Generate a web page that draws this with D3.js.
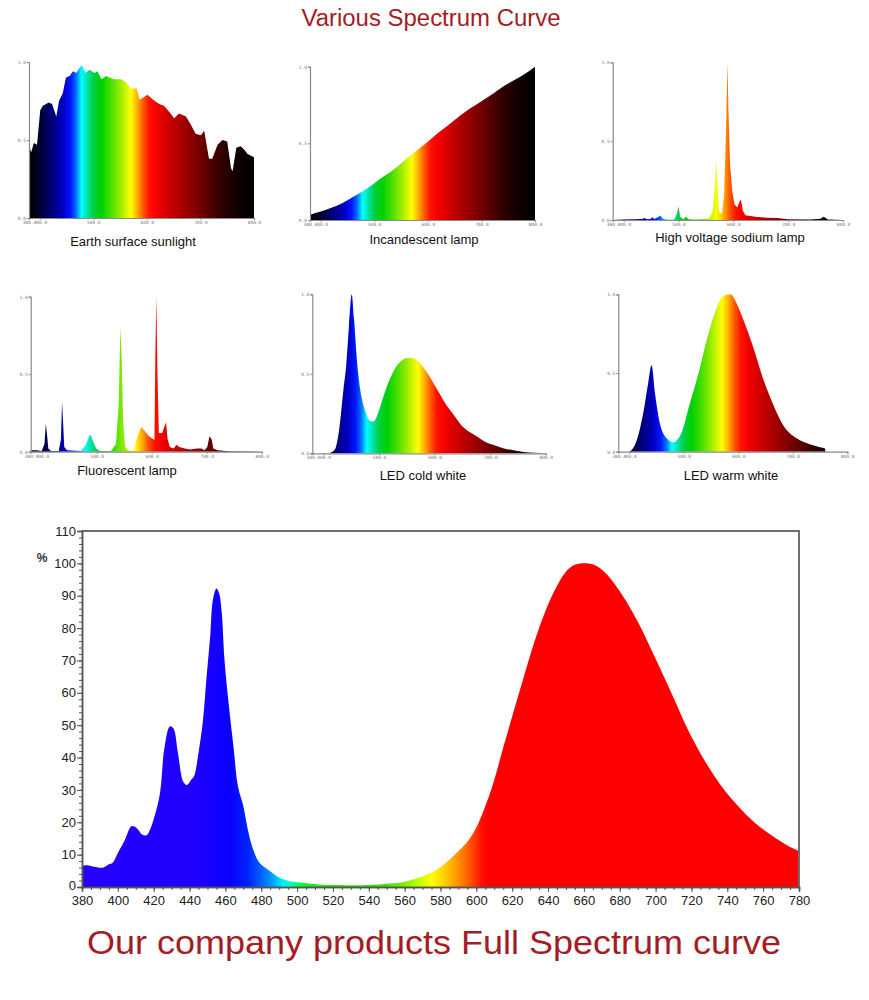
<!DOCTYPE html>
<html><head><meta charset="utf-8">
<script src="https://cdn.jsdelivr.net/npm/d3@7"></script>
<style>body{margin:0;background:#fff}svg{display:block}</style>
</head><body>
<script>
// ---------- DATA ----------
const sunlight = [[380,0.47],[384,0.42],[389,0.48],[395,0.47],[401,0.69],[406,0.72],[417,0.74],[423,0.73],[431,0.65],[436,0.75],[443,0.80],[449,0.90],[456,0.91],[462,0.94],[468,0.93],[474,0.96],[479,0.98],[485,0.93],[493,0.95],[502,0.93],[508,0.94],[515,0.89],[524,0.91],[530,0.90],[539,0.89],[552,0.89],[561,0.87],[570,0.83],[581,0.83],[586,0.76],[592,0.77],[601,0.79],[611,0.76],[623,0.73],[632,0.72],[642,0.68],[651,0.64],[660,0.67],[673,0.65],[682,0.60],[691,0.54],[701,0.53],[707,0.56],[716,0.38],[722,0.38],[732,0.47],[741,0.50],[750,0.49],[757,0.32],[760,0.30],[767,0.45],[775,0.46],[781,0.44],[788,0.41],[800,0.39]];
const incandescent = [[380,0.035],[400,0.055],[420,0.08],[440,0.11],[460,0.15],[480,0.19],[500,0.24],[520,0.29],[540,0.34],[560,0.40],[580,0.455],[600,0.51],[620,0.57],[640,0.625],[660,0.68],[680,0.73],[700,0.775],[720,0.82],[740,0.87],[760,0.91],[780,0.95],[800,1.0]];
const sodium = [[380,0],[400,0.003],[420,0.005],[434,0.006],[438,0.012],[442,0.005],[449,0.006],[452,0.018],[456,0.006],[464,0.02],[467,0.028],[471,0.01],[478,0.003],[492,0.002],[497,0.04],[500,0.085],[503,0.02],[509,0.004],[514,0.022],[518,0.004],[530,0.003],[545,0.006],[556,0.01],[562,0.05],[566,0.2],[569,0.38],[571,0.22],[574,0.05],[579,0.04],[583,0.15],[586.5,0.55],[588.5,0.85],[589.5,1.0],[591,0.7],[594,0.35],[598,0.18],[602,0.1],[607,0.08],[612,0.12],[614,0.13],[617,0.06],[622,0.03],[640,0.02],[660,0.015],[680,0.012],[700,0.004],[740,0.003],[759,0.008],[764,0.02],[768,0.015],[772,0.003],[800,0]];
const fluorescent = [[380,0.01],[390,0.01],[400,0.005],[405,0.05],[407.5,0.18],[410,0.1],[412,0.02],[417,0.005],[431,0.005],[435,0.08],[437,0.32],[439,0.18],[441,0.03],[446,0.01],[472,0.005],[481,0.05],[486,0.1],[489,0.11],[493,0.07],[499,0.02],[506,0.005],[526,0.005],[535,0.05],[540,0.3],[543,0.8],[545.5,0.6],[548,0.2],[552,0.03],[560,0.005],[568,0.01],[574,0.1],[581,0.16],[586,0.14],[595,0.1],[605,0.075],[606.5,0.6],[608.5,1.0],[610.5,0.5],[613,0.12],[619,0.12],[626,0.19],[629,0.08],[633,0.03],[640,0.02],[645,0.045],[650,0.03],[660,0.02],[670,0.015],[682,0.02],[690,0.02],[696,0.01],[701,0.03],[705,0.1],[709,0.08],[712,0.02],[720,0.01],[740,0.003],[800,0]];
const ledCold = [[380,0],[408,0],[420,0.02],[428,0.14],[436,0.4],[441,0.55],[446,0.8],[451,1.0],[455,0.85],[460,0.6],[465,0.43],[470,0.33],[476,0.26],[482,0.21],[488,0.2],[493,0.21],[500,0.27],[510,0.38],[520,0.47],[530,0.54],[540,0.58],[550,0.6],[560,0.6],[570,0.58],[580,0.54],[590,0.49],[600,0.43],[610,0.37],[620,0.31],[635,0.24],[650,0.17],[660,0.14],[672,0.115],[690,0.075],[708,0.05],[725,0.03],[740,0.02],[760,0.008],[780,0.003],[800,0]];
const ledWarm = [[380,0],[398,0],[410,0.04],[426,0.25],[435,0.44],[441,0.55],[447,0.38],[457,0.17],[469,0.085],[481,0.06],[489,0.08],[497,0.13],[509,0.28],[528,0.51],[543,0.72],[558,0.89],[571,0.985],[586,1.0],[596,0.95],[608,0.85],[626,0.68],[645,0.47],[664,0.30],[682,0.17],[707,0.085],[731,0.047],[750,0.028],[759,0.02],[760,0],[800,0]];
const product = [[380,6.5],[383,6.7],[386,6.3],[389,6.0],[392,6.0],[395,7.0],[397,7.4],[400,10.5],[404,14.7],[407.5,18.8],[409.5,18.6],[411.5,17.6],[413.5,16.2],[416,16.0],[418,17.8],[420.5,21.9],[423.5,29],[426,43],[429,49.6],[431,49],[433.5,41.5],[436.5,32.5],[438.5,31.5],[441,33.2],[442.5,34.2],[445,41.5],[447.5,51.6],[449.5,65],[451.5,77.3],[453,88.6],[455,92.2],[456.5,90.7],[458,84.5],[459.5,70.1],[462,55.7],[464.5,43.4],[467,31.1],[470,25],[472.5,17.8],[475.5,11.6],[479,7.5],[485,4.9],[490,2.9],[496,1.8],[503,1.3],[512,0.8],[522,0.6],[540,0.6],[550,1.0],[559,1.5],[568,2.9],[578,5.4],[587,9.5],[597,15.5],[607,28],[616,45],[626,64],[635,80],[644,92],[652,98.6],[659,100],[666,99.5],[673,96.5],[681,90.5],[690,82],[700,70.5],[710,58.5],[719,47.5],[728,38.5],[737,31],[746,25],[755,20],[765,15.8],[773,13],[780,11.1]];

const panelNames = ["Earth surface sunlight","Incandescent lamp","High voltage sodium lamp","Fluorescent lamp","LED cold white","LED warm white"];
const panelSeries = [sunlight, incandescent, sodium, fluorescent, ledCold, ledWarm];
const smallXTicks = [400,500,600,700,800];
const smallXLabels = ["380.400.0","500.0","600.0","700.0","800.0"];
const smallYTicks = [0,0.5,1.0];
const mainXTicks = d3.range(380,781,20);
const mainYTicks = d3.range(0,111,10);

const smallSpectrum = [[380,"#000000"],[395,"#000020"],[410,"#000050"],[430,"#000090"],[445,"#0000c8"],[458,"#0018ff"],[468,"#0070ff"],[478,"#00ffff"],[490,"#00e0a0"],[500,"#00d040"],[515,"#00d000"],[535,"#50e000"],[555,"#b0f000"],[570,"#ffff00"],[582,"#ffb000"],[592,"#ff6000"],[605,"#ff1000"],[620,"#f00000"],[650,"#c00000"],[680,"#900000"],[710,"#600000"],[740,"#300000"],[770,"#100000"],[800,"#000000"]];
const mainSpectrum = [[380,"#2400ff"],[445,"#1e00ff"],[462,"#0a00ff"],[472,"#0020ff"],[480,"#0060ff"],[487,"#00a8ff"],[492,"#00f0ff"],[496,"#00ffc0"],[500,"#00ff60"],[506,"#10f020"],[520,"#30e000"],[550,"#40e000"],[560,"#80f000"],[568,"#c0ff00"],[575,"#ffff00"],[582,"#ffd000"],[590,"#ff9000"],[597,"#ff5000"],[603,"#ff1000"],[606,"#ff0000"],[780,"#ff0000"]];

// ---------- LAYOUT ----------
const W = 869, H = 1000;
const svg = d3.select("body").append("svg").attr("width",W).attr("height",H)
  .style("font-family","'Liberation Sans', Arial, sans-serif");
const defs = svg.append("defs");

function addGradient(id, stops, x, d0, d1){
  const g = defs.append("linearGradient").attr("id",id).attr("gradientUnits","userSpaceOnUse")
    .attr("x1",x(d0)).attr("x2",x(d1)).attr("y1",0).attr("y2",0);
  g.selectAll("stop").data(stops).join("stop")
    .attr("offset",d=>(d[0]-d0)/(d1-d0)).attr("stop-color",d=>d[1]);
}

svg.append("text").attr("x",431).attr("y",26).attr("text-anchor","middle")
  .attr("font-size",23).attr("fill","#a51c24").attr("textLength",259).attr("lengthAdjust","spacingAndGlyphs")
  .text("Various Spectrum Curve");

const boxes = [
  {x0:29,x1:254,y0:218,y1:62,cx:133,cy:246},
  {x0:310,x1:535,y0:220,y1:66.7,cx:424,cy:244},
  {x0:612.7,x1:843,y0:220,y1:62.3,cx:730,cy:242},
  {x0:30.7,x1:261.7,y0:451.7,y1:296.7,cx:127,cy:475},
  {x0:312.3,x1:545.7,y0:453.3,y1:294.3,cx:423,cy:480},
  {x0:618.3,x1:847.3,y0:451.7,y1:294.3,cx:731,cy:480}
];
const linearPanels = [0,2,3];

boxes.forEach((b,i)=>{
  const x = d3.scaleLinear().domain([380,800]).range([b.x0,b.x1]);
  const y = d3.scaleLinear().domain([0,1]).range([b.y0,b.y1]);
  addGradient("sg"+i, smallSpectrum, x, 380, 800);
  const g = svg.append("g");
  const area = d3.area().x(d=>x(d[0])).y0(y(0)).y1(d=>y(d[1]))
    .curve(linearPanels.includes(i) ? d3.curveLinear : d3.curveMonotoneX);
  g.append("path").datum(panelSeries[i]).attr("d",area).attr("fill","url(#sg"+i+")");
  const ax = g.append("g").attr("transform",`translate(0,${b.y0})`)
    .call(d3.axisBottom(x).tickValues(smallXTicks).tickSize(2).tickPadding(1)
      .tickFormat((d,k)=>smallXLabels[k]));
  ax.selectAll(".tick text").filter(d=>d===400).attr("text-anchor","end").attr("dx",7);
  const ay = g.append("g").attr("transform",`translate(${b.x0},0)`)
    .call(d3.axisLeft(y).tickValues(smallYTicks).tickSize(2).tickPadding(1).tickFormat(d=>d.toFixed(1)));
  [ax,ay].forEach(a=>{
    a.select(".domain").attr("stroke","#8a8a8a").attr("stroke-width",1.2);
    a.selectAll(".tick line").attr("stroke","#8a8a8a");
    a.selectAll(".tick text").attr("font-size",4.5).attr("fill","#777").attr("font-family","'DejaVu Sans Mono', monospace");
  });
  g.append("text").attr("x",b.cx).attr("y",b.cy).attr("text-anchor","middle")
    .attr("font-size",13).attr("fill","#111").text(panelNames[i]);
});

// ---------- MAIN CHART ----------
const mx = d3.scaleLinear().domain([380,780]).range([82,799]);
const my = d3.scaleLinear().domain([0,110]).range([887,531]);
addGradient("mg", mainSpectrum, mx, 380, 780);
const mg = svg.append("g");
mg.append("path").datum(product)
  .attr("d", d3.area().x(d=>mx(d[0])).y0(my(0)).y1(d=>my(d[1])).curve(d3.curveCatmullRom.alpha(0.5)))
  .attr("fill","url(#mg)");
// frame
mg.append("path").attr("d",`M${mx(380)},${my(110)}H${mx(780)}V${my(0)}`)
  .attr("fill","none").attr("stroke","#6f6f6f").attr("stroke-width",2);

const minorY = mg.append("g").attr("transform",`translate(${mx(380)},0)`)
  .call(d3.axisLeft(my).tickValues(d3.range(0,111,2)).tickSize(3).tickFormat(""));
const majorY = mg.append("g").attr("transform",`translate(${mx(380)},0)`)
  .call(d3.axisLeft(my).tickValues(mainYTicks).tickSize(5).tickPadding(1));
const minorX = mg.append("g").attr("transform",`translate(0,${my(0)})`)
  .call(d3.axisBottom(mx).tickValues(d3.range(380,781,5)).tickSize(3).tickFormat(""));
const majorX = mg.append("g").attr("transform",`translate(0,${my(0)})`)
  .call(d3.axisBottom(mx).tickValues(mainXTicks).tickSize(5).tickPadding(4));
[minorY,majorY,minorX,majorX].forEach(a=>{
  a.select(".domain").attr("stroke","#555").attr("stroke-width",1.5);
  a.selectAll(".tick line").attr("stroke","#555");
  a.selectAll(".tick text").attr("font-size",13).attr("fill","#222")
    .attr("font-family","'Liberation Sans', Arial, sans-serif");
});
majorY.selectAll(".tick text").filter(d=>d===0).attr("dy","0.2em");
mg.append("text").attr("x",42).attr("y",562).attr("text-anchor","middle")
  .attr("font-size",12).attr("font-weight","bold").attr("fill","#333").text("%");

svg.append("text").attr("x",434).attr("y",954).attr("text-anchor","middle")
  .attr("font-size",34).attr("fill","#a51c24").attr("textLength",694).attr("lengthAdjust","spacingAndGlyphs")
  .text("Our company products Full Spectrum curve");
</script>
</body></html>
